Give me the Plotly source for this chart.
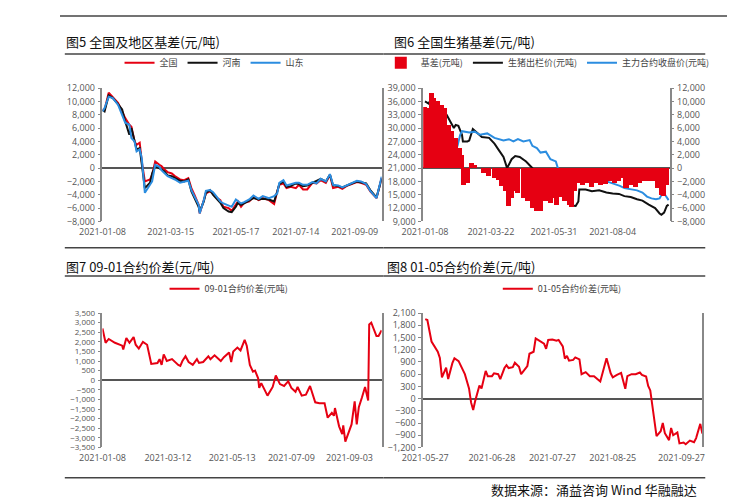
import plotly.graph_objects as go

# ---------- Panel 1: 全国及地区基差 ----------
p1_dates = ["2021-01-08","2021-01-10","2021-01-14","2021-01-18","2021-01-23","2021-01-27","2021-01-30","2021-02-03","2021-02-05","2021-02-08",
            "2021-02-10","2021-02-13","2021-02-15","2021-02-18","2021-02-23","2021-02-25","2021-02-28","2021-03-04","2021-03-06","2021-03-09",
            "2021-03-12","2021-03-16","2021-03-19","2021-03-24","2021-03-28","2021-04-01","2021-04-04","2021-04-07","2021-04-11","2021-04-12",
            "2021-04-16","2021-04-18","2021-04-22","2021-04-25","2021-04-29","2021-05-02","2021-05-05","2021-05-10","2021-05-13","2021-05-17",
            "2021-05-19","2021-05-22","2021-05-25","2021-05-30","2021-06-03","2021-06-08","2021-06-12","2021-06-18","2021-06-23","2021-06-26",
            "2021-06-28","2021-07-02","2021-07-05","2021-07-09","2021-07-14","2021-07-17","2021-07-21","2021-07-25","2021-07-30","2021-08-03",
            "2021-08-07","2021-08-12","2021-08-16","2021-08-19","2021-08-24","2021-08-28","2021-09-02","2021-09-06","2021-09-11","2021-09-15",
            "2021-09-20","2021-09-24","2021-09-30","2021-10-05"]
p1_national = [8800,8700,11300,10700,9800,8500,7500,6500,6200,4000,
               3500,3800,1000,-2000,-1700,-1000,1000,500,300,-200,
               -600,-800,-1200,-1700,-1800,-1500,-3000,-4000,-5500,-6800,
               -5000,-3800,-3500,-3800,-4500,-4800,-5800,-6000,-6400,-5500,
               -5000,-5800,-5200,-5000,-4300,-4800,-4500,-4800,-5400,-3500,
               -2500,-2300,-3000,-2800,-3000,-2500,-3200,-3200,-2200,-2300,
               -1800,-2200,-1000,-3000,-2800,-3100,-2600,-2400,-2100,-2200,
               -2500,-3500,-4500,-1500]
p1_henan = [8700,8500,10900,10500,9600,8800,7000,5000,6000,4000,
            2800,3000,500,-3000,-2200,-800,300,0,-200,-500,
            -1100,-1200,-1500,-1900,-2000,-1700,-3500,-4500,-5800,-6500,
            -5000,-3700,-3300,-4000,-4700,-5200,-6000,-6500,-6600,-5800,
            -5200,-5500,-5300,-4800,-4500,-4700,-4600,-4700,-5000,-3500,
            -2400,-2000,-2800,-2700,-2300,-2400,-2700,-2600,-2200,-2000,
            -1600,-2000,-1000,-2600,-2700,-2900,-2500,-2300,-2000,-2100,
            -2300,-3300,-4400,-1600]
p1_shandong = [8500,9000,10700,10500,9500,8000,6800,6500,4500,4000,
               2500,2800,1500,-3700,-2500,-2000,500,200,-300,-700,
               -1200,-1500,-1700,-2200,-2000,-1900,-3300,-4300,-5500,-6800,
               -4800,-3400,-3300,-3600,-4500,-5000,-5300,-5600,-5800,-4700,
               -5000,-5300,-5100,-4700,-4100,-4600,-4200,-4500,-4200,-3800,
               -2200,-1800,-2600,-2400,-2200,-2200,-2500,-2500,-2100,-2300,
               -1600,-2000,-900,-2500,-2600,-2900,-2500,-2200,-1900,-2000,
               -2400,-3400,-4500,-1300]
p1_ticks = ["2021-01-08","2021-03-15","2021-05-17","2021-07-14","2021-09-09"]

# ---------- Panel 2: 全国生猪基差 ----------
p2_bar_dates = ["2021-01-08","2021-01-12","2021-01-15","2021-01-18","2021-01-22","2021-01-26","2021-01-30","2021-02-03","2021-02-07","2021-02-11",
                "2021-02-15","2021-02-18","2021-02-20","2021-02-24","2021-03-01","2021-03-04","2021-03-08","2021-03-14","2021-03-20","2021-03-26",
                "2021-03-31","2021-04-03","2021-04-07","2021-04-11","2021-04-14","2021-04-18","2021-04-21","2021-04-27","2021-05-02","2021-05-07",
                "2021-05-12","2021-05-16","2021-05-22","2021-05-27","2021-05-31","2021-06-03","2021-06-07","2021-06-12","2021-06-17","2021-06-20",
                "2021-06-23","2021-06-27","2021-07-02","2021-07-07","2021-07-12","2021-07-17","2021-07-22","2021-07-27","2021-08-01","2021-08-06",
                "2021-08-11","2021-08-16","2021-08-19","2021-08-24","2021-08-29","2021-09-03","2021-09-08","2021-09-13","2021-09-18","2021-09-23",
                "2021-09-27","2021-09-30","2021-10-03"]
p2_basis = [9200,9000,11300,10500,10000,9500,9000,6500,5500,4500,
            3000,2000,-2500,-2200,800,500,0,-800,-1200,-1500,
            -1800,-2700,-3500,-5700,-4500,-3500,-3800,-4500,-5000,-6000,
            -6500,-6400,-5000,-5200,-4500,-5500,-4300,-5000,-5500,-5800,
            -3500,-2200,-2600,-2300,-2800,-2200,-2500,-2400,-2000,-2300,
            -2000,-1500,-3000,-2500,-2800,-2200,-2000,-2000,-2000,-3000,
            -4000,-4200,-2500]
p2_spot_dates = ["2021-01-08","2021-01-12","2021-01-14","2021-01-20","2021-01-26","2021-02-01","2021-02-05","2021-02-09","2021-02-11","2021-02-14",
                 "2021-02-18","2021-02-19","2021-02-24","2021-02-26","2021-03-02","2021-03-06","2021-03-12","2021-03-20","2021-03-26","2021-03-31",
                 "2021-04-05","2021-04-09","2021-04-14","2021-04-18","2021-04-23","2021-04-30","2021-05-07","2021-05-11","2021-05-18","2021-05-26",
                 "2021-06-02","2021-06-08","2021-06-15","2021-06-20","2021-06-24","2021-06-27","2021-06-28","2021-07-05","2021-07-12","2021-07-20",
                 "2021-07-28","2021-08-04","2021-08-11","2021-08-17","2021-08-24","2021-08-31","2021-09-06","2021-09-13","2021-09-20","2021-09-25",
                 "2021-09-27","2021-09-30","2021-10-03","2021-10-05"]
p2_spot = [36000,35500,36300,35800,34500,33000,31500,30000,30700,30500,
           28500,27000,27000,27200,29800,29000,28000,27800,26500,25000,
           23500,21000,23000,23700,23500,22500,21000,18700,18300,17800,
           17000,15800,14500,12600,12500,13500,16200,16200,15800,16000,
           15500,15300,15200,14700,14500,14000,13700,12800,12000,10800,
           10500,11000,12500,12800]
p2_fut_dates = ["2021-01-08","2021-01-12","2021-01-18","2021-01-24","2021-01-30","2021-02-05","2021-02-09","2021-02-13","2021-02-16","2021-02-18",
                "2021-02-26","2021-03-04","2021-03-10","2021-03-18","2021-03-26","2021-03-31","2021-04-05","2021-04-11","2021-04-16","2021-04-21",
                "2021-04-27","2021-05-04","2021-05-07","2021-05-12","2021-05-16","2021-05-22","2021-05-27","2021-06-02","2021-06-05","2021-06-08",
                "2021-06-13","2021-06-18","2021-06-21","2021-06-23","2021-06-27","2021-07-02","2021-07-08","2021-07-17","2021-07-23","2021-07-30",
                "2021-08-06","2021-08-12","2021-08-17","2021-08-24","2021-08-31","2021-09-06","2021-09-11","2021-09-16","2021-09-21","2021-09-25",
                "2021-09-28","2021-10-01","2021-10-05"]
p2_fut = [25800,25000,24300,24500,24800,25000,25300,26000,28500,29300,
          29000,29200,28500,28800,27800,27500,27200,27500,27000,27500,
          27000,27300,26000,25500,24500,24700,23000,22500,20500,19500,
          19000,17500,17800,19200,19000,18500,18000,18200,17800,17900,
          17500,17000,16500,16300,16000,15500,14600,14200,14000,14200,
          15300,15000,13800]
p2_ticks = ["2021-01-08","2021-03-22","2021-05-31","2021-08-04"]

# ---------- Panel 3: 09-01合约价差 ----------
p3_dates = ["2021-01-08","2021-01-11","2021-01-14","2021-01-20","2021-01-27","2021-01-28","2021-01-31","2021-02-03","2021-02-07","2021-02-09",
            "2021-02-12","2021-02-16","2021-02-20","2021-02-24","2021-03-02","2021-03-04","2021-03-06","2021-03-08","2021-03-11","2021-03-16",
            "2021-03-22","2021-03-24","2021-03-26","2021-03-29","2021-04-01","2021-04-05","2021-04-09","2021-04-11","2021-04-15","2021-04-20",
            "2021-04-22","2021-04-26","2021-05-02","2021-05-05","2021-05-10","2021-05-12","2021-05-14","2021-05-18","2021-05-21","2021-05-25",
            "2021-05-27","2021-05-30","2021-06-02","2021-06-04","2021-06-07","2021-06-08","2021-06-10","2021-06-16","2021-06-21","2021-06-24",
            "2021-06-28","2021-07-02","2021-07-06","2021-07-09","2021-07-13","2021-07-15","2021-07-19","2021-07-23","2021-07-27","2021-08-01",
            "2021-08-05","2021-08-10","2021-08-13","2021-08-17","2021-08-19","2021-08-20","2021-08-24","2021-08-27","2021-08-28","2021-08-30",
            "2021-09-05","2021-09-08","2021-09-10","2021-09-12","2021-09-15","2021-09-18","2021-09-21","2021-09-22","2021-09-24","2021-09-29",
            "2021-10-01","2021-10-04"]
p3_spread = [2700,1950,2150,1950,1800,1600,2200,1950,2250,1850,
             1650,2000,1850,850,900,1100,800,1350,1000,1100,
             800,750,1000,1250,950,800,1100,900,950,1250,
             1100,1300,1000,1200,1450,950,1500,1700,1550,2100,
             1800,800,450,500,100,-400,-150,-800,-350,250,
             -200,-300,-50,-400,-600,-350,-800,-750,-300,-1150,
             -1200,-1200,-1950,-1700,-1850,-1450,-2400,-2800,-2350,-3200,
             -2300,-1100,-2300,-1400,-900,-350,-1050,2900,3000,2300,
             2300,2600]
p3_ticks = ["2021-01-08","2021-03-12","2021-05-13","2021-07-09","2021-09-03"]

# ---------- Panel 4: 01-05合约价差 ----------
p4_dates = ["2021-05-27","2021-05-28","2021-05-30","2021-06-01","2021-06-02","2021-06-03","2021-06-04","2021-06-06","2021-06-07","2021-06-09",
            "2021-06-10","2021-06-12","2021-06-14","2021-06-15","2021-06-17","2021-06-18","2021-06-19","2021-06-20","2021-06-22","2021-06-23",
            "2021-06-25","2021-06-26","2021-06-28","2021-06-29","2021-07-01","2021-07-02","2021-07-04","2021-07-05","2021-07-06","2021-07-08",
            "2021-07-09","2021-07-11","2021-07-12","2021-07-15","2021-07-16","2021-07-18","2021-07-19","2021-07-21","2021-07-23","2021-07-24",
            "2021-07-25","2021-07-27","2021-07-29","2021-07-30","2021-08-01","2021-08-02","2021-08-03","2021-08-04","2021-08-06","2021-08-07",
            "2021-08-09","2021-08-10","2021-08-12","2021-08-14","2021-08-16","2021-08-19","2021-08-20","2021-08-22","2021-08-24","2021-08-25",
            "2021-08-27","2021-08-29","2021-08-31","2021-09-01","2021-09-03","2021-09-05","2021-09-07","2021-09-08","2021-09-10","2021-09-11",
            "2021-09-12","2021-09-14","2021-09-15","2021-09-17","2021-09-18","2021-09-19","2021-09-21","2021-09-22","2021-09-23","2021-09-25",
            "2021-09-26","2021-09-28","2021-09-29","2021-10-01","2021-10-03","2021-10-04","2021-10-06","2021-10-07"]
p4_spread = [1950,1930,1400,1250,1150,1000,520,760,480,870,
             990,920,700,600,250,-100,-280,-50,320,250,
             680,550,550,620,600,480,750,820,750,770,
             880,780,600,800,1100,1150,1480,1420,1350,1220,
             1440,1450,1420,1440,1280,980,1050,930,950,1010,
             960,600,650,550,550,420,600,990,620,520,
             580,630,240,550,600,600,640,580,540,310,
             200,-600,-920,-800,-600,-850,-1020,-720,-900,-830,
             -1100,-1080,-1120,-1030,-1070,-970,-620,-860]
p4_ticks = ["2021-05-27","2021-06-28","2021-07-27","2021-08-25","2021-09-27"]

RED = "#e60012"
BLUE = "#2b8de0"
BLACK = "#111111"
FONT = "Noto Sans CJK SC"
W, H = 735, 500

def px_x(p): return p / W
def px_y(p): return 1 - p / H

fig = go.Figure()
lw = 2
fig.add_trace(go.Scatter(x=p1_dates, y=p1_national, name="全国", mode="lines", line=dict(color=RED, width=lw), xaxis="x", yaxis="y", legend="legend"))
fig.add_trace(go.Scatter(x=p1_dates, y=p1_henan, name="河南", mode="lines", line=dict(color=BLACK, width=lw), xaxis="x", yaxis="y", legend="legend"))
fig.add_trace(go.Scatter(x=p1_dates, y=p1_shandong, name="山东", mode="lines", line=dict(color=BLUE, width=lw), xaxis="x", yaxis="y", legend="legend"))
fig.add_trace(go.Bar(x=p2_bar_dates, y=p2_basis, name="基差(元吨)", marker=dict(color=RED, line=dict(width=0)), width=5.6*86400000, xaxis="x2", yaxis="y5", legend="legend2"))
fig.add_trace(go.Scatter(x=p2_spot_dates, y=p2_spot, name="生猪出栏价(元吨)", mode="lines", line=dict(color=BLACK, width=lw), xaxis="x2", yaxis="y2", legend="legend2"))
fig.add_trace(go.Scatter(x=p2_fut_dates, y=p2_fut, name="主力合约收盘价(元吨)", mode="lines", line=dict(color=BLUE, width=lw), xaxis="x2", yaxis="y2", legend="legend2"))
fig.add_trace(go.Scatter(x=p3_dates, y=p3_spread, name="09-01合约价差(元吨)", mode="lines", line=dict(color=RED, width=lw), xaxis="x3", yaxis="y3", legend="legend3"))
fig.add_trace(go.Scatter(x=p4_dates, y=p4_spread, name="01-05合约价差(元吨)", mode="lines", line=dict(color=RED, width=lw), xaxis="x4", yaxis="y4", legend="legend4"))

tickfont = dict(family="Open Sans", size=9, color="#555555")
smallfont = dict(family="Open Sans", size=8, color="#555555")

def xaxis(dom, anchor, rng, ticks):
    return dict(domain=dom, anchor=anchor, type="date", range=rng, tickvals=ticks, ticktext=ticks,
                showgrid=False, showline=False, zeroline=False, ticks="", tickfont=tickfont, ticklabelstandoff=4)

def yaxis(dom, anchor, rng, dtick, side="left", overlay=None, mirror=True, font=tickfont):
    d = dict(domain=dom, anchor=anchor, range=rng, dtick=dtick, tickformat=",", showgrid=False,
             showline=True, linecolor="#888888", linewidth=1.5, mirror=mirror, ticks="outside", ticklen=3,
             tickcolor="#888888", zeroline=True, zerolinecolor="#555555", zerolinewidth=1.5,
             tickfont=font, side=side, ticklabelstandoff=1)
    if overlay:
        d["overlaying"] = overlay
    return d

top_dom = [px_y(212), px_y(75)]
bot_dom = [px_y(444), px_y(306)]
fig.update_layout(
    width=W, height=H, autosize=False, margin=dict(l=0, r=0, t=0, b=0),
    paper_bgcolor="white", plot_bgcolor="white", font=dict(family=FONT),
    barmode="overlay", bargap=0,
    xaxis=xaxis([px_x(74), px_x(363)], "y", ["2021-01-08", "2021-10-05"], p1_ticks),
    yaxis=yaxis(top_dom, "x", [-8000, 12000], 2000),
    xaxis2=xaxis([px_x(406), px_x(661)], "y2", ["2021-01-06", "2021-10-06"], p2_ticks),
    yaxis2=yaxis(top_dom, "x2", [9000, 39000], 3000, mirror=False),
    yaxis5=yaxis(top_dom, "x2", [-8000, 12000], 2000, side="right", overlay="y2", mirror=False),
    xaxis3=xaxis([px_x(74), px_x(363)], "y3", ["2021-01-08", "2021-10-04"], p3_ticks),
    yaxis3=yaxis(bot_dom, "x3", [-3500, 3500], 500, font=smallfont),
    xaxis4=xaxis([px_x(406), px_x(695)], "y4", ["2021-05-26", "2021-10-07"], p4_ticks),
    yaxis4=yaxis(bot_dom, "x4", [-1200, 2100], 300),
)
legfont = dict(family=FONT, size=9, color="#444444")
leg = lambda x, y: dict(x=x, y=y, xanchor="center", yanchor="middle", orientation="h", font=legfont,
                        bgcolor="rgba(0,0,0,0)", itemwidth=30, tracegroupgap=0)
fig.update_layout(legend=leg(px_x(190), px_y(49)),
                  legend2=leg(px_x(535), px_y(49)),
                  legend3=leg(px_x(205), px_y(281)), legend4=leg(px_x(550), px_y(281)))

shapes = []
def hline(x0, x1, y, w=1.5, c="#444444"):
    shapes.append(dict(type="line", xref="paper", yref="paper", x0=px_x(x0), x1=px_x(x1), y0=px_y(y), y1=px_y(y), line=dict(color=c, width=w)))
hline(30, 735, 1)
hline(35, 365, 40); hline(365, 698, 40)
hline(35, 365, 239); hline(365, 698, 239)
hline(35, 365, 268); hline(365, 698, 268)
hline(35, 365, 475); hline(365, 698, 475)
fig.update_layout(shapes=shapes)

ann = []
def text(x, y, s, size=13, anchor="left", color="#111111"):
    ann.append(dict(xref="paper", yref="paper", x=px_x(x), y=px_y(y), text=s, showarrow=False, xanchor=anchor, yanchor="middle",
                    font=dict(family=FONT, size=size, color=color)))
text(34, 27, "图5 全国及地区基差(元/吨)")
text(374, 27, "图6 全国生猪基差(元/吨)")
text(34, 258, "图7 09-01合约价差(元/吨)")
text(366, 258, "图8 01-05合约价差(元/吨)")
text(692, 487, "数据来源：涌益咨询 Wind 华融融达", anchor="right")
fig.update_layout(annotations=ann)

fig.write_html("out.html")
